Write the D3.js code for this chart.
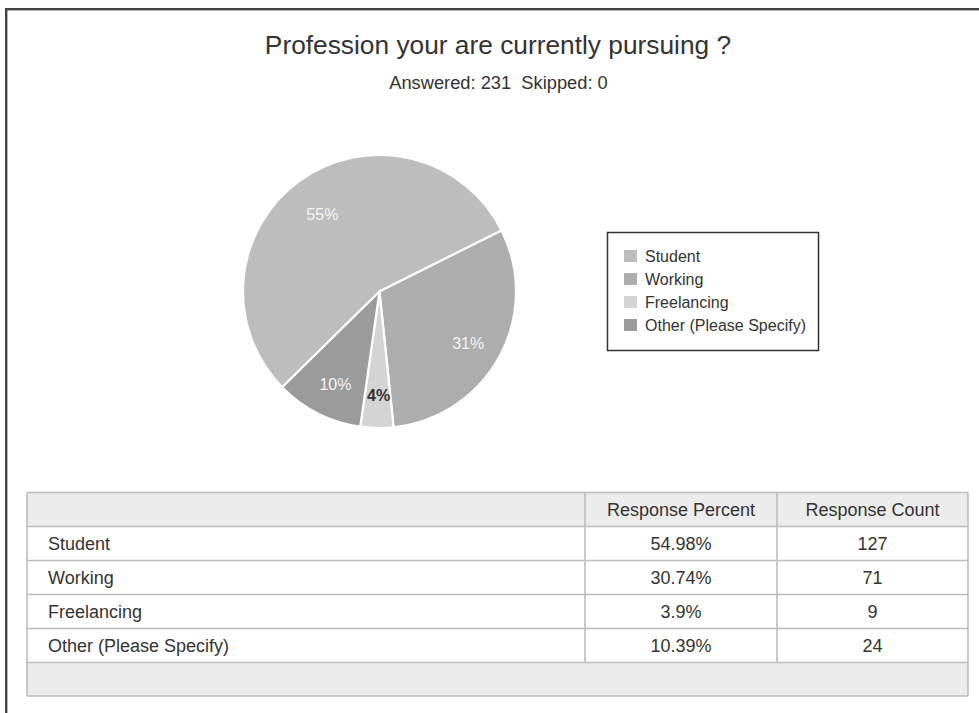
<!DOCTYPE html>
<html>
<head>
<meta charset="utf-8">
<script src="https://cdn.jsdelivr.net/npm/d3@7/dist/d3.min.js"></script>
<style>
  html, body { margin: 0; padding: 0; background: #fff; }
  svg { display: block; font-family: "Liberation Sans", Arial, Helvetica, sans-serif; }
</style>
</head>
<body>
<svg id="chart" width="979" height="713"></svg>
<script>
// Survey question and summary
const title = "Profession your are currently pursuing ?";
const subtitle = "Answered: 231  Skipped: 0";

// Answer choices and their results
const categories = ["Student", "Working", "Freelancing", "Other (Please Specify)"];
const responseCounts = [127, 71, 9, 24];
const responsePercents = ["54.98%", "30.74%", "3.9%", "10.39%"];
const sliceLabels = ["55%", "31%", "4%", "10%"];
const tableHeaders = ["", "Response Percent", "Response Count"];

const sliceColors = ["#bdbdbd", "#adadad", "#d4d4d4", "#9b9b9b"];
const labelColors = ["#f4f4f4", "#f4f4f4", "#333333", "#f4f4f4"];

const svg = d3.select("#chart");
const W = 979, H = 713;

// Outer frame (runs off the right and bottom edges)
svg.append("rect")
  .attr("x", 6.2).attr("y", 9.2)
  .attr("width", W + 20).attr("height", H + 20)
  .attr("fill", "none").attr("stroke", "#444").attr("stroke-width", 2.4);

// Headings
svg.append("text")
  .attr("x", 498).attr("y", 54)
  .attr("text-anchor", "middle")
  .attr("font-size", 26.3).attr("fill", "#333")
  .text(title);

svg.append("text")
  .attr("x", 498.5).attr("y", 89)
  .attr("text-anchor", "middle")
  .attr("font-size", 18.3).attr("fill", "#333")
  .style("white-space", "pre")
  .text(subtitle);

// Pie
const cx = 379.5, cy = 291.5, R = 136.5;
const start = -134.5 * Math.PI / 180;
const pie = d3.pie().sort(null).value(d => d.count)
  .startAngle(start).endAngle(start + 2 * Math.PI);
const data = categories.map((c, i) => ({ name: c, count: responseCounts[i], label: sliceLabels[i], i }));
const arcs = pie(data);
const arc = d3.arc().innerRadius(0).outerRadius(R);
const labelArc = d3.arc().innerRadius(100).outerRadius(100);

const g = svg.append("g").attr("transform", `translate(${cx},${cy})`);
g.selectAll("path.slice").data(arcs).join("path")
  .attr("class", "slice")
  .attr("d", arc)
  .attr("fill", d => sliceColors[d.data.i])
  .attr("stroke", "#fff").attr("stroke-width", 2.2)
  .attr("stroke-linejoin", "round");

g.selectAll("text.lbl").data(arcs).join("text")
  .attr("class", "lbl")
  .attr("transform", d => {
    const [x, y] = labelArc.centroid(d);
    return `translate(${x + 1},${y + 4})`;
  })
  .attr("dy", "0.35em")
  .attr("text-anchor", "middle")
  .attr("font-size", 16)
  .attr("font-weight", d => d.data.i === 2 ? "bold" : "normal")
  .attr("fill", d => labelColors[d.data.i])
  .text(d => d.data.label);

// Legend
const lg = svg.append("g");
lg.append("rect")
  .attr("x", 607.5).attr("y", 232.5).attr("width", 211).attr("height", 118)
  .attr("fill", "#fff").attr("stroke", "#333").attr("stroke-width", 1.5);
const rowY = d3.scalePoint().domain(categories).range([256, 325]);
categories.forEach((c, i) => {
  lg.append("rect")
    .attr("x", 624).attr("y", rowY(c) - 6).attr("width", 13).attr("height", 12)
    .attr("fill", sliceColors[i]);
  lg.append("text")
    .attr("x", 645).attr("y", rowY(c)).attr("dy", "0.35em")
    .attr("font-size", 16).attr("fill", "#333")
    .text(c);
});

// Results table
const tX0 = 27, tX1 = 585, tX2 = 777, tX3 = 968;
const rowEdges = [492.5, 526.5, 560.5, 594.5, 628.5, 662.5, 696];
const t = svg.append("g");
const border = "#bdbdbd";

// header and footer backgrounds
t.append("rect").attr("x", tX0).attr("y", rowEdges[0])
  .attr("width", tX3 - tX0).attr("height", rowEdges[1] - rowEdges[0]).attr("fill", "#ececec");
t.append("rect").attr("x", tX0).attr("y", rowEdges[5])
  .attr("width", tX3 - tX0).attr("height", rowEdges[6] - rowEdges[5]).attr("fill", "#ececec");

// horizontal rules
rowEdges.forEach(y => {
  t.append("line").attr("x1", tX0).attr("x2", tX3).attr("y1", y).attr("y2", y)
    .attr("stroke", border).attr("stroke-width", 1.6);
});
// outer verticals
[tX0, tX3].forEach(x => {
  t.append("line").attr("x1", x).attr("x2", x).attr("y1", rowEdges[0]).attr("y2", rowEdges[6])
    .attr("stroke", border).attr("stroke-width", 1.6);
});
// inner column dividers (header and data rows only)
[tX1, tX2].forEach(x => {
  t.append("line").attr("x1", x).attr("x2", x).attr("y1", rowEdges[0]).attr("y2", rowEdges[5])
    .attr("stroke", border).attr("stroke-width", 1.6);
});

const colCenter = [null, (tX1 + tX2) / 2, (tX2 + tX3) / 2];
tableHeaders.forEach((h, j) => {
  if (!h) return;
  t.append("text")
    .attr("x", colCenter[j]).attr("y", (rowEdges[0] + rowEdges[1]) / 2).attr("dy", "0.35em")
    .attr("text-anchor", "middle").attr("font-size", 18).attr("fill", "#333")
    .text(h);
});

categories.forEach((c, i) => {
  const yMid = (rowEdges[i + 1] + rowEdges[i + 2]) / 2;
  t.append("text").attr("x", 48).attr("y", yMid).attr("dy", "0.35em")
    .attr("font-size", 18).attr("fill", "#333").text(c);
  t.append("text").attr("x", colCenter[1]).attr("y", yMid).attr("dy", "0.35em")
    .attr("text-anchor", "middle").attr("font-size", 18).attr("fill", "#333")
    .text(responsePercents[i]);
  t.append("text").attr("x", colCenter[2]).attr("y", yMid).attr("dy", "0.35em")
    .attr("text-anchor", "middle").attr("font-size", 18).attr("fill", "#333")
    .text(responseCounts[i]);
});
</script>
</body>
</html>
